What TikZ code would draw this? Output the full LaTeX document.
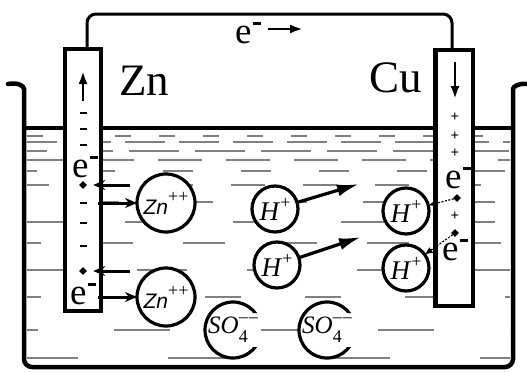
\documentclass[tikz,border=0pt]{standalone}
\usepackage{fontspec}
\setmainfont{Liberation Serif}
\newfontfamily\ionfont{Liberation Sans}
\usetikzlibrary{arrows.meta,shapes.geometric}
\newcommand{\elec}{e\kern0.03em\raisebox{0.5em}{\rule{0.22em}{0.08em}}}
\newcommand{\ionsup}[1]{\raisebox{0.45em}{\fontsize{18}{18}\selectfont #1}}
\newcommand{\znion}{{\fontsize{21}{21}\selectfont\ionfont\itshape Zn}\ionsup{++}}
\newcommand{\hion}{\textit{H}\ionsup{+}}
\newcommand{\soion}{\textit{SO}\rlap{\raisebox{-0.35em}{\fontsize{18}{18}\selectfont 4}}\ionsup{--\kern1pt--}}
\tikzset{
  vessel/.style={line width=4.5pt, line cap=round, rounded corners=8pt},
  surface/.style={line width=3.5pt},
  hatch/.style={line width=1.8pt, black!50},
  wire/.style={line width=3pt, rounded corners=9pt},
  electrode/.style={draw, line width=4.5pt, fill=white, inner sep=0pt, outer sep=0pt},
  metal/.style={font=\fontsize{45}{45}\selectfont, inner sep=0pt},
  elab/.style={font=\fontsize{37}{37}\selectfont, inner sep=0pt, anchor=base west},
  chg/.style={font=\fontsize{15}{15}\selectfont\bfseries, inner sep=0pt},
  spot/.style={diamond, fill=black, inner sep=0pt, minimum size=8pt},
  ion/.style={circle, draw, line width=3.2pt, fill=white, inner sep=0pt, outer sep=0pt, font=\fontsize{27}{27}\selectfont},
  ionbare/.style={circle, fill=white, inner sep=0pt, outer sep=0pt, font=\fontsize{25}{25}\selectfont},
  ionline/.style={line width=3.2pt},
  eflow/.style={line width=2.6pt, -{Latex[length=13pt,width=9pt]}},
  ionarrow/.style={line width=3pt, -{Stealth[length=12pt,width=10pt]}},
  bigarrow/.style={line width=3.2pt, -{Latex[length=22pt,width=12pt]}},
  dasharrow/.style={line width=1.2pt, dash pattern=on 2pt off 1.5pt, -{Latex[length=8pt,width=7pt]}},
}

\begin{document}
\begin{tikzpicture}[x=1pt,y=-1pt]
  \useasboundingbox (0,0) rectangle (527,372);

  % electrolyte
  \foreach \yy/\segl/\segg/\segp in {136/16/28/0, 142/40/14/10, 151/50/16/30, 160/44/24/5,
      171/30/48/20, 185/34/38/12, 202/38/56/40, 222/46/62/10, 243/42/50/28,
      270/50/60/0, 297/36/64/22, 330/56/76/45, 358/66/90/15}
    \draw[hatch, dash pattern=on \segl pt off \segg pt, dash phase=\segp pt] (27,\yy) -- (510,\yy);

  \draw[vessel] (8,84) .. controls (18,82) and (24,86) .. (24,97) -- (24,367) -- (513,367)
    -- (513,97) .. controls (513,87) and (518,83) .. (526,84);
  \draw[surface] (24,128) -- (513,128);

  % electrodes and the wire
  \node[electrode, minimum width=36, minimum height=262] (zn) at (83,180) {};
  \node[electrode, minimum width=37.5, minimum height=256] (cu) at (454,178) {};
  \draw[wire] ([xshift=4]zn.north) -- ++(0,-35) -| ([xshift=-2]cu.north);

  \node[metal] (znlab) at (144,81) {Zn};
  \node[metal] (culab) at (396,78) {Cu};

  \node[elab] (etop) at (235,43) {\elec};
  \coordinate (etip) at (303,29);
  \draw[eflow, shorten <=7] (etop.east |- etip) -- (etip);

  % zinc side
  \coordinate (znup1) at (83,101);
  \coordinate (znup2) at (83,71);
  \draw[eflow] (znup1) -- (znup2);
  \foreach \yy [count=\k] in {113,129,145,203,223,246}
    \node[chg] (zm\k) at (83,\yy) {\rule{7pt}{2pt}};
  \node[elab] (ezn1) at (72,177) {\elec};
  \node[elab] (ezn2) at (70,304) {\elec};
  \node[spot] (zd1) at (83,185) {};
  \node[spot] (zd2) at (83,271) {};

  \node[ion, minimum size=58] (ZnA) at (166,203) {\znion};
  \node[ion, minimum size=58] (ZnB) at (166,297) {\znion};

  \draw[ionarrow, shorten <=7, shorten >=6] (zd1 -| ZnA.west) -- (zd1);
  \draw[ionarrow, shorten <=11] (zm4) -- (ZnA);
  \draw[ionarrow, shorten <=7, shorten >=6] (zd2 -| ZnB.west) -- (zd2);
  \draw[ionarrow, shorten <=2] (ezn2.east |- ZnB) -- (ZnB);

  % hydrogen ions
  \node[ion, minimum size=46] (HA) at (275,209) {\hion};
  \node[ion, minimum size=46] (HB) at (277,265) {\hion};
  \node[ion, minimum size=46] (HC) at (406,211) {\hion};
  \node[ion, minimum size=46] (HD) at (406,268) {\hion};
  \coordinate (tipA) at (359,184);
  \coordinate (tipB) at (361,237);
  \draw[bigarrow] (HA) -- (tipA);
  \draw[bigarrow] (HB) -- (tipB);

  % sulfate ions, ring left open on the right
  \node[ionbare, minimum size=56] (SOA) at (233,330) {\soion};
  \node[ionbare, minimum size=56] (SOB) at (327,330) {\soion};
  \begin{scope}[even odd rule]
    \clip (190,290) rectangle (380,372)
      (SOA) ++(18,-17) rectangle ++(16,34)
      (SOB) ++(18,-17) rectangle ++(16,34);
    \draw[ionline] (SOA) circle[radius=28pt] (SOB) circle[radius=28pt];
  \end{scope}

  % copper side
  \coordinate (cudn1) at (455,62);
  \coordinate (cudn2) at (455,99);
  \draw[eflow] (cudn1) -- (cudn2);
  \foreach \yy [count=\k] in {117,136,153,216}
    \node[chg] (cp\k) at (455,\yy) {+};
  \node[elab] (ecu1) at (445,188) {\elec};
  \node[elab] (ecu2) at (442,260) {\elec};
  \node[spot] (cd1) at (457,198) {};
  \node[spot] (cd2) at (455,233) {};
  \draw[dasharrow] (cd1) -- (HC);
  \draw[dasharrow] (cd2) -- (HD);
\end{tikzpicture}
\end{document}
